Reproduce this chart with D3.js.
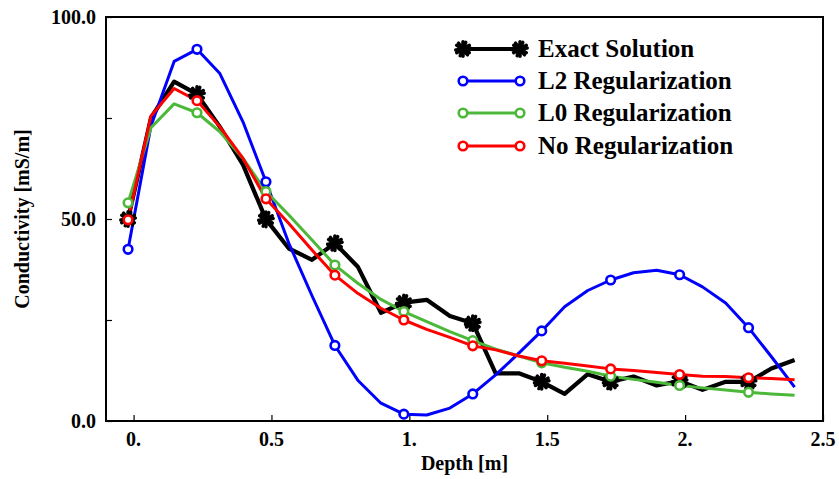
<!DOCTYPE html>
<html>
<head>
<meta charset="utf-8">
<script src="https://cdn.jsdelivr.net/npm/d3@7"></script>
<style>
  body { margin: 0; background: #fff; }
  text { font-family: "Liberation Serif", "Times New Roman", serif; font-weight: bold; }
</style>
</head>
<body>
<div class="canvas"></div>
<script>
var w = 839;
var h = 479;

// depth samples [m]
var depth = [-0.02, 0.063, 0.147, 0.23, 0.313, 0.397, 0.48, 0.563, 0.647, 0.73,
    0.813, 0.897, 0.98, 1.063, 1.147, 1.23, 1.313, 1.397, 1.48, 1.563,
    1.647, 1.73, 1.813, 1.897, 1.98, 2.063, 2.147, 2.23, 2.313, 2.397];

var exact = [50, 75, 84, 80.9, 72.8, 63.4, 49.9, 42.7, 39.9, 44,
    38.2, 26.8, 29.3, 30, 26, 24.2, 11.8, 11.8, 9.7, 6.7,
    11.6, 9.7, 11, 8.8, 9.9, 7.7, 9.7, 9.7, 13, 15.1];

var l2 = [42.5, 73, 89, 92, 86, 74, 59.2, 44, 31, 18.7,
    10.1, 4.4, 1.7, 1.5, 3.2, 6.7, 11.4, 16.8, 22.3, 28.3,
    32.3, 34.9, 36.7, 37.3, 36.2, 33.2, 29.2, 23.1, 15.9, 8.4];

var l0 = [54, 72.6, 78.5, 76.3, 71.6, 65, 56.8, 51, 44.8, 38.6,
    34.1, 30.1, 27.1, 24.6, 22.1, 19.9, 17.8, 16.1, 14.4, 13.3,
    12.3, 11.1, 10.3, 9.6, 8.8, 8.2, 7.7, 7.1, 6.7, 6.4];

var noReg = [49.8, 75.5, 82.3, 79.3, 72.8, 65, 55, 48.9, 42.3, 36.1,
    31.6, 27.9, 25, 22.7, 20.7, 18.6, 17.6, 16.1, 14.9, 14.3,
    13.6, 12.9, 12.5, 12, 11.5, 11.1, 11, 10.7, 10.5, 10.2];

var seriesNames = ["Exact Solution", "L2 Regularization", "L0 Regularization", "No Regularization"];
var seriesColors = ["#000000", "#0000ff", "#4cb83a", "#ff0000"];
var seriesValues = [exact, l2, l0, noReg];

var xTicks = [0, 0.5, 1, 1.5, 2, 2.5];
var xTickLabels = ["0.", "0.5", "1.", "1.5", "2.", "2.5"];
var yTicks = [0, 25, 50, 75, 100];
var yTickLabels = {0: "0.0", 50: "50.0", 100: "100.0"};

var plotLeft = 106, plotRight = 823, plotTop = 17, plotBottom = 421;

var xScale = d3.scaleLinear()
    .domain([-0.1, 2.5])
    .range([plotLeft, plotRight]);

var yScale = d3.scaleLinear()
    .domain([0, 100])
    .range([plotBottom, plotTop]);

var svg = d3.select(".canvas").append("svg")
    .attr("width", w)
    .attr("height", h);

// ticks (inward)
var xAxis = d3.axisTop(xScale).tickValues(xTicks).tickSize(6).tickFormat("");
svg.append("g")
    .attr("transform", "translate(0," + plotBottom + ")")
    .call(xAxis)
    .call(function (g) { g.select(".domain").remove(); })
    .selectAll("line").attr("stroke", "#000").attr("stroke-width", 1.2);

var yAxis = d3.axisRight(yScale).tickValues(yTicks).tickSize(6).tickFormat("");
svg.append("g")
    .attr("transform", "translate(" + plotLeft + ",0)")
    .call(yAxis)
    .call(function (g) { g.select(".domain").remove(); })
    .selectAll("line").attr("stroke", "#000").attr("stroke-width", 1.2);

// tick labels
svg.append("g").selectAll("text")
    .data(xTicks)
    .enter().append("text")
    .attr("x", function (d) { return xScale(d); })
    .attr("y", plotBottom + 25)
    .attr("text-anchor", "middle")
    .attr("font-size", 20)
    .text(function (d, i) { return xTickLabels[i]; });

svg.append("g").selectAll("text")
    .data([0, 50, 100])
    .enter().append("text")
    .attr("x", plotLeft - 10)
    .attr("y", function (d) { return yScale(d) + 7; })
    .attr("text-anchor", "end")
    .attr("font-size", 20)
    .text(function (d) { return yTickLabels[d]; });

// axis titles
svg.append("text")
    .attr("x", (plotLeft + plotRight) / 2)
    .attr("y", 470)
    .attr("text-anchor", "middle")
    .attr("font-size", 20)
    .text("Depth [m]");

svg.append("text")
    .attr("transform", "translate(29," + ((plotTop + plotBottom) / 2) + ") rotate(-90)")
    .attr("text-anchor", "middle")
    .attr("font-size", 20)
    .text("Conductivity [mS/m]");

var line = d3.line()
    .x(function (d, i) { return xScale(depth[i]); })
    .y(function (d) { return yScale(d); });

var starPath = d3.symbol().type(d3.symbolAsterisk).size(150)();

function drawMarker(g, x, y, k) {
    if (k == 0) {
        g.append("circle")
            .attr("cx", x).attr("cy", y).attr("r", 5.5)
            .attr("fill", "#000");
        g.append("path")
            .attr("d", starPath)
            .attr("transform", "translate(" + x + "," + y + ")")
            .attr("stroke", "#000")
            .attr("stroke-width", 3.5)
            .attr("stroke-linecap", "round")
            .attr("fill", "none");
        g.append("path")
            .attr("d", starPath)
            .attr("transform", "translate(" + x + "," + y + ") rotate(22.5)")
            .attr("stroke", "#000")
            .attr("stroke-width", 3.5)
            .attr("stroke-linecap", "round")
            .attr("fill", "none");
    } else {
        g.append("circle")
            .attr("cx", x).attr("cy", y).attr("r", 4.3)
            .attr("fill", "#fff")
            .attr("stroke", seriesColors[k])
            .attr("stroke-width", 2.6);
    }
}

var layer = svg.append("g");
seriesValues.forEach(function (vals, k) {
    layer.append("path")
        .attr("d", line(vals))
        .attr("fill", "none")
        .attr("stroke", seriesColors[k])
        .attr("stroke-width", k == 0 ? 4.2 : 3)
        .attr("stroke-linejoin", "round");
});
seriesValues.forEach(function (vals, k) {
    var g = layer.append("g");
    for (var i = 0; i < vals.length; i += 3) {
        drawMarker(g, xScale(depth[i]), yScale(vals[i]), k);
    }
});

// frame
svg.append("rect")
    .attr("x", plotLeft).attr("y", plotTop)
    .attr("width", plotRight - plotLeft).attr("height", plotBottom - plotTop)
    .attr("fill", "none")
    .attr("stroke", "#000")
    .attr("stroke-width", 2);

// legend
var legend = svg.append("g");
var legendY = [49, 81, 113, 146];
seriesNames.forEach(function (name, k) {
    var y = legendY[k];
    legend.append("line")
        .attr("x1", 463).attr("x2", 520)
        .attr("y1", y).attr("y2", y)
        .attr("stroke", seriesColors[k])
        .attr("stroke-width", k == 0 ? 4 : 3);
    drawMarker(legend, 463, y, k);
    drawMarker(legend, 520, y, k);
    legend.append("text")
        .attr("x", 538)
        .attr("y", y + 8)
        .attr("font-size", 25)
        .text(name);
});
</script>
</body>
</html>
